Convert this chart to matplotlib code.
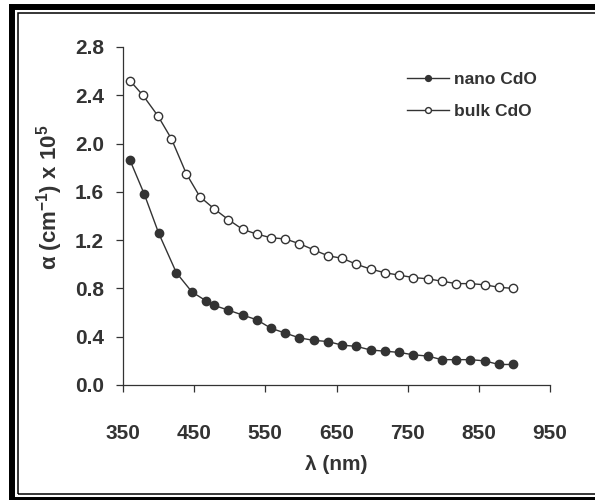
import numpy as np
import matplotlib
matplotlib.use('Agg')
import matplotlib.pyplot as plt
from matplotlib.patches import Rectangle

# === Daten ===
wl_nano = [360, 380, 400, 425, 447, 466, 478, 498, 518, 538, 558, 578, 598, 618,
           638, 658, 678, 698, 718, 738, 758, 778, 798, 818, 838, 858, 878, 898]
alpha_nano = [1.86, 1.58, 1.26, 0.93, 0.77, 0.70, 0.66, 0.62, 0.58, 0.54, 0.47, 0.43, 0.39, 0.37,
              0.36, 0.33, 0.32, 0.29, 0.28, 0.27, 0.25, 0.24, 0.21, 0.21, 0.21, 0.20, 0.17, 0.17]

wl_bulk = [360, 378, 399, 418, 439, 458, 478, 498, 518, 538, 558, 578, 598, 618,
           638, 658, 678, 698, 718, 738, 758, 778, 798, 818, 838, 858, 878, 898]
alpha_bulk = [2.52, 2.40, 2.23, 2.04, 1.75, 1.56, 1.46, 1.37, 1.29, 1.25, 1.22, 1.21, 1.17, 1.12,
              1.07, 1.05, 1.00, 0.96, 0.93, 0.91, 0.89, 0.88, 0.86, 0.84, 0.84, 0.83, 0.81, 0.80]

x_ticks = [350, 450, 550, 650, 750, 850, 950]
y_ticks = [0.0, 0.4, 0.8, 1.2, 1.6, 2.0, 2.4, 2.8]

DARK = '#333333'

plt.rcParams['font.family'] = ['Liberation Sans', 'DejaVu Sans']
plt.rcParams['font.weight'] = 'bold'
plt.rcParams['mathtext.fontset'] = 'custom'
plt.rcParams['mathtext.rm'] = 'Liberation Sans:bold'
plt.rcParams['mathtext.it'] = 'Liberation Sans:bold'
plt.rcParams['mathtext.bf'] = 'Liberation Sans:bold'

fig = plt.figure(figsize=(5.95, 5.0), dpi=100)
ax = fig.add_axes([0.2067, 0.23, 0.7177, 0.676])

ax.plot(wl_nano, alpha_nano, color=DARK, lw=1.0, marker='o', markersize=6,
        markerfacecolor=DARK, markeredgecolor=DARK, label='nano CdO')
ax.plot(wl_bulk, alpha_bulk, color=DARK, lw=1.0, marker='o', markersize=6,
        markerfacecolor='white', markeredgecolor=DARK, markeredgewidth=1.0, label='bulk CdO')

ax.set_xlim(350, 950)
ax.set_ylim(0, 2.8)
ax.set_xticks(x_ticks)
ax.set_yticks(y_ticks)
ax.set_yticklabels([f'{v:.1f}' for v in y_ticks])

for side in ['top', 'right']:
    ax.spines[side].set_visible(False)
for side in ['left', 'bottom']:
    ax.spines[side].set_color(DARK)
    ax.spines[side].set_linewidth(0.9)

ax.tick_params(direction='out', length=5, width=0.9, color=DARK,
               labelsize=15, labelcolor=DARK)
ax.tick_params(axis='x', pad=23)
ax.tick_params(axis='y', pad=8.6)
for lbl in ax.get_xticklabels() + ax.get_yticklabels():
    lbl.set_fontweight('bold')

ax.set_xlabel('λ (nm)', fontsize=15, fontweight='bold', color=DARK)
ax.xaxis.set_label_coords(0.5, (385 - 465) / 338, transform=ax.transAxes)
ax.set_ylabel('α (cm$^{-1}$) x 10$^{5}$', fontsize=16, fontweight='bold', color=DARK,
              va='center')
ax.yaxis.set_label_coords((50 - 123) / 427, (385 - 197) / 338, transform=ax.transAxes)
ax.xaxis.label.set_va('center')

leg = ax.legend(loc='upper left', bbox_to_anchor=(0.684, 0.857), bbox_transform=fig.transFigure,
                frameon=False, fontsize=12.5, handlelength=2.4, handletextpad=0.3,
                labelspacing=1.0, borderpad=0, borderaxespad=0, markerscale=0.7)
for txt in leg.get_texts():
    txt.set_color(DARK)
    txt.set_fontweight('bold')

# Doppelter Rahmen
fig.patches.append(Rectangle((12 / 595, 0.0), 1.2, 1 - 7 / 500, transform=fig.transFigure,
                             fill=False, edgecolor='black', linewidth=4.3, clip_on=False))
fig.patches.append(Rectangle((17.5 / 595, 5.7 / 500), 1.2, 1 - 13 / 500 - 5.7 / 500,
                             transform=fig.transFigure, fill=False, edgecolor='black',
                             linewidth=1.1, clip_on=False))

fig.savefig('out.png', dpi=100)
